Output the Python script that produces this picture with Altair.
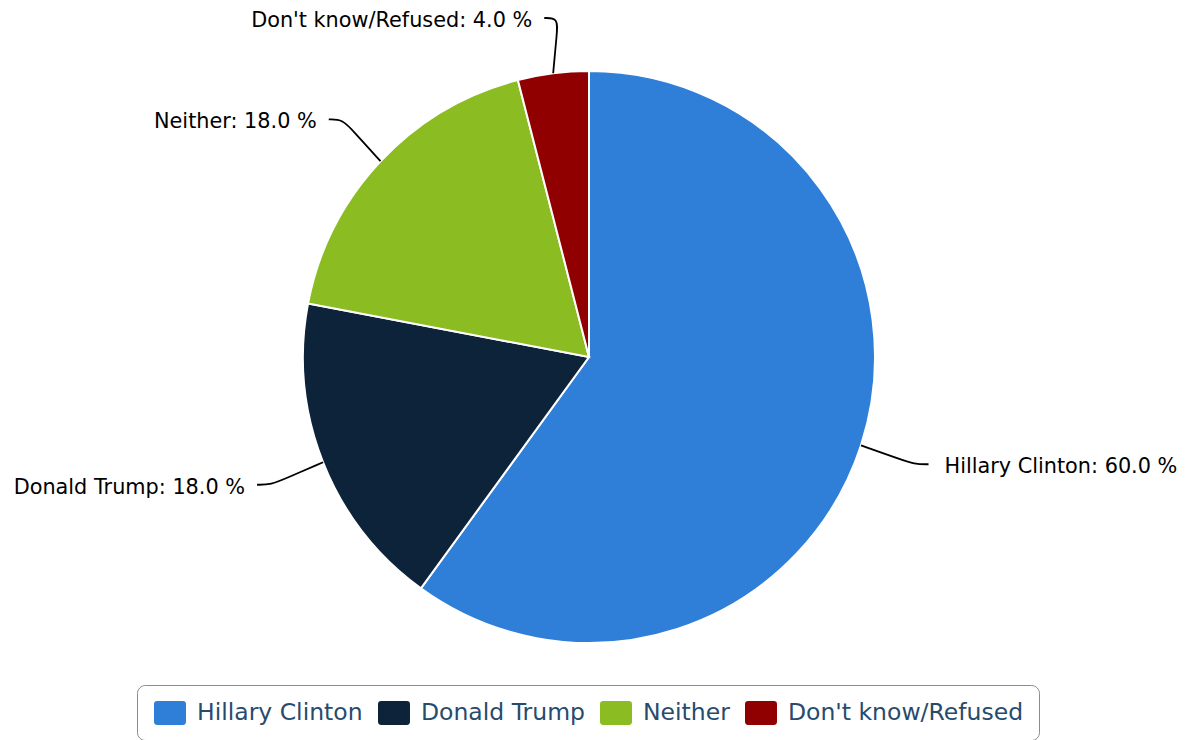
import altair as alt
import numpy as np
import pandas as pd

# ---- data ----
categories = ["Hillary Clinton", "Donald Trump", "Neither", "Don't know/Refused"]
values = [60.0, 18.0, 18.0, 4.0]
colors = ["#2f7ed8", "#0d233a", "#8bbc21", "#910000"]

# ---- layout constants (page pixels) ----
CX, CY, R = 589, 357, 286
RX, RY = 357, 347          # label ellipse
W, H = 1174, 732
FONT = "DejaVu Sans"

df = pd.DataFrame({"category": categories, "value": values, "idx": range(len(categories))})
total = df["value"].sum()
start = df["value"].cumsum() - df["value"]
mid = (start + df["value"] / 2) / total * 2 * np.pi
sx, sy = np.sin(mid), -np.cos(mid)
side = np.where(sx >= 0, 1, -1)
ax_ = CX + RX * sx
ay_ = np.maximum(CY + RY * sy, 18)   # keep labels inside the canvas
ex = CX + R * sx
ey = CY + R * sy
df["label"] = [f"{c}: {v:.1f} %" for c, v in zip(categories, values)]
df["side"] = side
df["tx"] = ax_ + np.where(side > 0, 16, -12)
df["ty"] = ay_ + 3

rows = []
for i, c in enumerate(categories):
    p1x, p1y = ax_[i] - side[i] * 14, ay_[i]
    mx, my = ex[i] + 0.7 * (p1x - ex[i]), ey[i] + 0.7 * (p1y - ey[i])
    pts = [(ex[i], ey[i]), (mx, my), (p1x, p1y), (ax_[i], ay_[i])]
    for s, (px, py) in enumerate(pts):
        rows.append({"category": c, "step": s, "px": px, "py": py})
lines_df = pd.DataFrame(rows)

xs = alt.Scale(domain=[8, 8 + W], zero=False, nice=False)
ys = alt.Scale(domain=[8, 8 + H], zero=False, nice=False, reverse=True)

# rounded-rectangle legend symbol (32 x 24 px at symbolSize 676 -> unit 13px)
SYM = ("M-0.6,-0.92 H1.37 Q1.615,-0.92 1.615,-0.68 V0.68 Q1.615,0.92 1.37,0.92 "
       "H-0.6 Q-0.846,0.92 -0.846,0.68 V-0.68 Q-0.846,-0.92 -0.6,-0.92 Z")

arcs = alt.Chart(df).mark_arc(radius=R, stroke="white", strokeWidth=2).encode(
    theta=alt.Theta("value:Q", stack=True),
    color=alt.Color(
        "category:N",
        scale=alt.Scale(domain=categories, range=colors),
        legend=alt.Legend(
            title=None, orient="none", legendX=129, legendY=677,
            direction="horizontal", symbolType=SYM, symbolSize=676,
            symbolStrokeWidth=0, symbolOpacity=1,
            labelFont=FONT, labelFontSize=23.5, labelColor="#274b6d",
            labelOffset=19, columnPadding=13, padding=15,
            strokeColor="#8c8c8c", cornerRadius=8, fillColor="white", labelLimit=0,
        ),
    ),
    order=alt.Order("idx:Q"),
    x=alt.value(CX - 8),
    y=alt.value(CY - 8),
)

lines = alt.Chart(lines_df).mark_line(color="black", strokeWidth=1.8, interpolate="basis").encode(
    x=alt.X("px:Q", scale=xs, axis=None),
    y=alt.Y("py:Q", scale=ys, axis=None),
    detail="category:N",
    order="step:Q",
)

text_r = alt.Chart(df).transform_filter("datum.side > 0").mark_text(
    align="left", baseline="middle", font=FONT, fontSize=20.8, color="black"
).encode(
    x=alt.X("tx:Q", scale=xs, axis=None),
    y=alt.Y("ty:Q", scale=ys, axis=None),
    text="label:N",
)

text_l = alt.Chart(df).transform_filter("datum.side < 0").mark_text(
    align="right", baseline="middle", font=FONT, fontSize=20.8, color="black"
).encode(
    x=alt.X("tx:Q", scale=xs, axis=None),
    y=alt.Y("ty:Q", scale=ys, axis=None),
    text="label:N",
)

chart = alt.layer(arcs, lines, text_r, text_l).properties(
    width=W, height=H, autosize="none", padding=0,
).configure_view(stroke=None)

chart.save("out.html", embed_options={"renderer": "svg", "actions": False})
